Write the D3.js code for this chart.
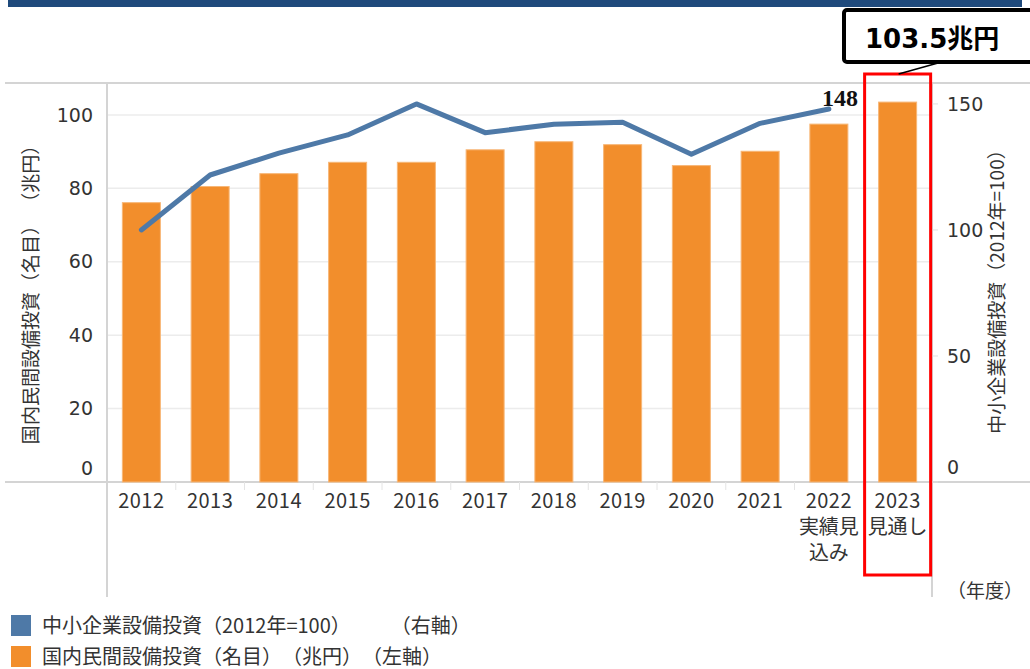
<!DOCTYPE html>
<html>
<head>
<meta charset="utf-8">
<script src="https://cdn.jsdelivr.net/npm/d3@7"></script>
<style>
  body { margin: 0; background: #fff; }
  svg { display: block; }
  text { font-family: "DejaVu Sans", "Noto Sans CJK JP", sans-serif; text-spacing-trim: space-all; }
  .jp { font-family: "Noto Sans CJK JP", sans-serif; }
</style>
</head>
<body>
<div id="chart"></div>
<script>
var years = ["2012", "2013", "2014", "2015", "2016", "2017", "2018", "2019", "2020", "2021", "2022", "2023"];
var yearNotes = {"2022": ["実績見", "込み"], "2023": ["見通し"]};
var capex = [76.1, 80.5, 84.0, 87.1, 87.1, 90.5, 92.7, 91.9, 86.2, 90.1, 97.5, 103.5];   // 兆円, left axis
var smeIndex = [100, 121.8, 130.5, 137.7, 150, 138.6, 141.9, 142.7, 130, 142.3, 148];      // 2012=100, right axis
var leftTicks = [0, 20, 40, 60, 80, 100];
var rightTicks = [0, 50, 100, 150];

var W = 1030, H = 669;
var plot = {left: 107, right: 932, top: 83, bottom: 482};

var svg = d3.select("#chart").append("svg")
    .attr("width", W).attr("height", H);

// header band
svg.append("rect").attr("x", 8).attr("y", 0).attr("width", 1014).attr("height", 7).attr("fill", "#1f4a7c");

var x = d3.scaleBand().domain(years).range([plot.left, plot.right])
    .paddingInner(0.447).paddingOuter(0.2235);
var yL = d3.scaleLinear().domain([0, 108.7]).range([plot.bottom, plot.top]);
var yR = d3.scaleLinear().domain([0, 158.3]).range([plot.bottom, plot.top]);

// gridlines
svg.append("g").selectAll("line").data(leftTicks.slice(1)).join("line")
    .attr("x1", plot.left).attr("x2", plot.right)
    .attr("y1", function(d) { return yL(d); }).attr("y2", function(d) { return yL(d); })
    .attr("stroke", "#ececec").attr("stroke-width", 1.5);

// frame lines
svg.append("line").attr("x1", 5).attr("x2", W).attr("y1", plot.top).attr("y2", plot.top)
    .attr("stroke", "#d4d4d4").attr("stroke-width", 2);
svg.append("line").attr("x1", 5).attr("x2", W).attr("y1", plot.bottom).attr("y2", plot.bottom)
    .attr("stroke", "#d4d4d4").attr("stroke-width", 2);
[plot.left, plot.right].forEach(function(px) {
  svg.append("line").attr("x1", px).attr("x2", px).attr("y1", plot.top).attr("y2", 597)
      .attr("stroke", "#d4d4d4").attr("stroke-width", 2);
});

// category separator ticks
svg.append("g").selectAll("line").data(years.slice(1)).join("line")
    .attr("x1", function(d) { return x(d) - x.step() * x.paddingInner() / 2; })
    .attr("x2", function(d) { return x(d) - x.step() * x.paddingInner() / 2; })
    .attr("y1", plot.bottom).attr("y2", plot.bottom + 8)
    .attr("stroke", "#e4e4e4");

// right axis small ticks
svg.append("g").selectAll("line").data(rightTicks).join("line")
    .attr("x1", plot.right).attr("x2", plot.right + 6)
    .attr("y1", function(d) { return yR(d); }).attr("y2", function(d) { return yR(d); })
    .attr("stroke", "#e0e0e0");

// bars
svg.append("g").selectAll("rect").data(capex).join("rect")
    .attr("x", function(d, i) { return x(years[i]); })
    .attr("y", function(d) { return yL(d); })
    .attr("width", x.bandwidth())
    .attr("height", function(d) { return yL(0) - yL(d); })
    .attr("fill", "#f28e2c")
    .attr("stroke", "#f7b777").attr("stroke-width", 1);

// line
var line = d3.line()
    .x(function(d, i) { return x(years[i]) + x.bandwidth() / 2; })
    .y(function(d) { return yR(d); });
svg.append("path").datum(smeIndex)
    .attr("d", line)
    .attr("fill", "none")
    .attr("stroke", "#4e79a7")
    .attr("stroke-width", 5)
    .attr("stroke-linejoin", "round")
    .attr("stroke-linecap", "round");

var last = smeIndex.length - 1;
svg.append("text")
    .attr("x", x(years[last]) + x.bandwidth() / 2 - 7)
    .attr("y", yR(smeIndex[last]) - 3)
    .style("font-family", "'Liberation Serif', serif")
    .attr("font-weight", "bold").attr("font-size", 24)
    .attr("fill", "#111")
    .text(Math.round(smeIndex[last]));

// left tick labels
svg.append("g").selectAll("text").data(leftTicks).join("text")
    .attr("x", 93)
    .attr("y", function(d) { return d === 0 ? yL(d) - 14 : yL(d); })
    .attr("dy", "0.35em")
    .attr("text-anchor", "end")
    .attr("font-size", 19).attr("fill", "#333")
    .text(function(d) { return d; });

// right tick labels
svg.append("g").selectAll("text").data(rightTicks).join("text")
    .attr("x", 947)
    .attr("y", function(d) { return d === 0 ? yR(d) - 15 : yR(d); })
    .attr("dy", "0.35em")
    .attr("font-size", 19).attr("fill", "#333")
    .text(function(d) { return d; });

// x labels, one text per line
var xLines = [];
years.forEach(function(d) {
  xLines.push({year: d, text: d, row: 0});
  (yearNotes[d] || []).forEach(function(s, k) { xLines.push({year: d, text: s, row: k + 1}); });
});
svg.append("g").selectAll("text").data(xLines).join("text")
    .attr("class", "jp")
    .attr("text-anchor", "middle")
    .attr("font-size", 20).attr("fill", "#333")
    .attr("letter-spacing", function(d) { return d.row === 0 ? 0.5 : 0; })
    .attr("x", function(d) { return x(d.year) + x.bandwidth() / 2; })
    .attr("y", function(d) { return 508 + d.row * 26; })
    .text(function(d) { return d.text; });

svg.append("text").attr("class", "jp")
    .attr("x", 985).attr("y", 598).attr("text-anchor", "middle")
    .attr("font-size", 19).attr("fill", "#333")
    .text("（年度）");

// axis titles
svg.append("text").attr("class", "jp")
    .attr("transform", "translate(38,290) rotate(-90)")
    .attr("text-anchor", "middle").attr("font-size", 19).attr("fill", "#333")
    .text("国内民間設備投資（名目） （兆円）");
svg.append("text").attr("class", "jp")
    .attr("transform", "translate(1004,287) rotate(-90)")
    .attr("text-anchor", "middle").attr("font-size", 19).attr("fill", "#333")
    .text("中小企業設備投資（2012年=100）");

// highlight of the 2023 outlook
var hx = x("2023");
svg.append("rect")
    .attr("x", hx - 14).attr("y", 74)
    .attr("width", x.bandwidth() + 28).attr("height", 501)
    .attr("fill", "none").attr("stroke", "#ff0000").attr("stroke-width", 3);
svg.append("line")
    .attr("x1", hx + 20).attr("y1", 74).attr("x2", 938).attr("y2", 63)
    .attr("stroke", "#000").attr("stroke-width", 1.5);
svg.append("rect")
    .attr("x", 844).attr("y", 10).attr("width", 200).attr("height", 52)
    .attr("rx", 3)
    .attr("fill", "#fff").attr("stroke", "#000").attr("stroke-width", 4);
var ann = svg.append("text").attr("x", 865).attr("y", 48)
    .attr("font-weight", "bold").attr("font-size", 26).attr("fill", "#000");
ann.append("tspan").text(d3.format(".1f")(capex[capex.length - 1]));
ann.append("tspan").style("font-family", "'Noto Sans CJK JP', sans-serif").text("兆円");

// legend
var legend = [
  {label: "中小企業設備投資（2012年=100）　　（右軸）", color: "#4e79a7"},
  {label: "国内民間設備投資（名目）（兆円）（左軸）", color: "#f28e2c"}
];
var lg = svg.append("g").selectAll("g").data(legend).join("g")
    .attr("transform", function(d, i) { return "translate(11," + (615 + i * 31) + ")"; });
lg.append("rect").attr("width", 20).attr("height", 21).attr("fill", function(d) { return d.color; });
lg.append("text").attr("class", "jp")
    .attr("x", 31).attr("y", 11).attr("dy", "0.35em")
    .attr("font-size", 20).attr("fill", "#333")
    .text(function(d) { return d.label; });
</script>
</body>
</html>
